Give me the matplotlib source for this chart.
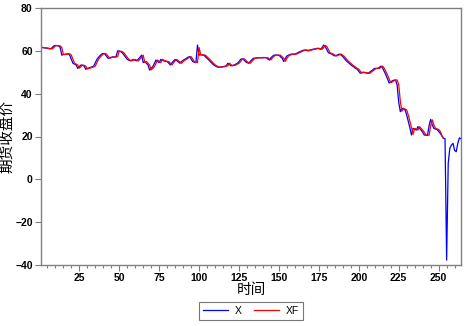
import matplotlib.pyplot as plt
from matplotlib.ticker import MultipleLocator

plt.rcParams['font.family'] = ['Liberation Sans', 'Noto Sans CJK SC', 'DejaVu Sans']
cjk = ['Noto Sans CJK SC', 'DejaVu Sans']

# futures close X (obs 1..264)
x_vals = [61.6, 61.5, 61.4, 61.3, 61.2, 61.0, 60.9, 61.5, 62.3, 62.5,
          62.4, 62.3, 61.6, 58.0, 58.3, 58.4, 58.5, 58.6, 58.0, 56.0,
          54.2, 53.8, 53.4, 51.8, 52.6, 53.4, 53.2, 52.9, 51.4, 51.8,
          52.0, 52.3, 52.5, 52.9, 54.5, 56.0, 57.0, 57.8, 58.5, 58.8,
          58.5, 57.5, 56.5, 56.8, 57.0, 57.2, 57.1, 57.3, 60.0, 59.8,
          59.6, 59.0, 58.0, 57.0, 56.0, 55.6, 55.3, 55.7, 56.0, 55.6,
          55.3, 56.2, 57.0, 58.0, 54.5, 55.0, 54.2, 53.4, 51.0, 51.8,
          52.6, 54.2, 55.7, 55.0, 54.5, 56.0, 55.6, 55.3, 55.1, 55.0,
          54.2, 53.4, 54.4, 55.3, 56.0, 55.4, 54.8, 54.2, 55.0, 55.6,
          56.0, 56.5, 57.0, 57.3, 56.2, 55.0, 54.7, 54.5, 62.7, 58.0,
          58.2, 58.0, 58.0, 57.2, 56.5, 55.8, 55.0, 54.2, 53.5, 53.0,
          52.6, 52.3, 52.4, 52.5, 52.6, 52.8, 53.0, 54.2, 53.6, 53.0,
          53.2, 53.4, 53.8, 54.2, 55.0, 56.0, 56.3, 55.8, 55.0, 54.5,
          54.2, 55.0, 55.8, 56.5, 56.6, 56.7, 56.8, 56.8, 56.7, 56.9,
          56.8, 56.8, 56.2, 55.7, 56.8, 57.5, 58.0, 58.0, 57.9, 58.0,
          57.2, 56.5, 55.0, 56.5, 57.6, 58.0, 58.3, 58.5, 58.4, 58.5,
          58.8, 59.2, 59.6, 59.9, 60.2, 60.4, 60.3, 60.0, 60.3, 60.5,
          60.7, 60.8, 61.0, 61.2, 61.0, 60.7, 61.5, 62.7, 62.0, 60.5,
          59.1, 58.8, 58.5, 58.0, 57.6, 57.9, 58.2, 58.5, 57.9, 57.3,
          56.4, 55.5, 54.8, 54.2, 53.5, 52.9, 52.4, 51.8, 51.4, 50.4,
          49.5, 50.0, 49.9, 49.8, 49.6, 49.5, 50.2, 50.7, 51.3, 51.8,
          51.8, 51.8, 52.4, 52.9, 51.8, 50.2, 48.7, 46.8, 45.0, 45.5,
          46.0, 46.3, 46.4, 44.0, 36.0, 31.6, 33.2, 32.8, 32.4, 30.0,
          27.0, 24.0, 20.7, 23.8, 23.4, 23.0, 24.6, 23.8, 23.0, 22.0,
          20.7, 20.6, 20.5, 25.0, 28.0, 25.4, 23.8, 23.5, 23.3, 22.4,
          21.5, 20.3, 19.1, 19.0, -37.7, 7.5, 14.5, 16.0, 16.8, 13.5,
          12.9, 16.8, 19.4, 18.9]

# fitted XF (obs 1..253)
xf_vals = [61.8, 61.6, 61.5, 61.4, 61.3, 61.2, 61.0, 60.9, 61.5, 62.3,
           62.5, 62.4, 62.3, 61.6, 58.2, 58.3, 58.4, 58.5, 58.6, 58.0,
           56.0, 54.2, 53.8, 53.4, 51.9, 52.6, 53.4, 53.2, 52.9, 51.5,
           51.8, 52.0, 52.3, 52.5, 52.9, 54.5, 56.0, 57.0, 57.8, 58.5,
           58.8, 58.5, 57.5, 56.5, 56.8, 57.0, 57.2, 57.1, 57.3, 60.0,
           59.8, 59.6, 59.0, 58.0, 57.0, 56.0, 55.6, 55.3, 55.7, 56.0,
           55.6, 55.3, 56.2, 57.0, 58.0, 54.6, 55.0, 54.2, 53.4, 51.1,
           51.8, 52.6, 54.2, 55.7, 55.0, 54.5, 56.0, 55.6, 55.3, 55.1,
           55.0, 54.2, 53.4, 54.4, 55.3, 56.0, 55.4, 54.8, 54.2, 55.0,
           55.6, 56.0, 56.5, 57.0, 57.3, 56.2, 55.0, 54.7, 54.5, 61.5,
           58.2, 58.2, 58.0, 58.0, 57.2, 56.5, 55.8, 55.0, 54.2, 53.5,
           53.0, 52.6, 52.3, 52.4, 52.5, 52.6, 52.8, 53.0, 54.2, 53.6,
           53.0, 53.2, 53.4, 53.8, 54.2, 55.0, 56.0, 56.3, 55.8, 55.0,
           54.5, 54.2, 55.0, 55.8, 56.5, 56.6, 56.7, 56.8, 56.8, 56.7,
           56.9, 56.8, 56.8, 56.2, 55.8, 56.8, 57.5, 58.0, 58.0, 57.9,
           58.0, 57.2, 56.5, 55.1, 56.5, 57.6, 58.0, 58.3, 58.5, 58.4,
           58.5, 58.8, 59.2, 59.6, 59.9, 60.2, 60.4, 60.3, 60.0, 60.3,
           60.5, 60.7, 60.8, 61.0, 61.2, 61.0, 60.7, 61.5, 62.5, 62.0,
           60.5, 59.1, 58.8, 58.5, 58.0, 57.6, 57.9, 58.2, 58.5, 57.9,
           57.3, 56.4, 55.5, 54.8, 54.2, 53.5, 52.9, 52.4, 51.8, 51.4,
           50.4, 49.6, 50.0, 49.9, 49.8, 49.6, 49.5, 50.2, 50.7, 51.3,
           51.8, 51.8, 51.8, 52.4, 52.8, 51.8, 50.2, 48.7, 46.8, 45.1,
           45.5, 46.0, 46.3, 46.4, 44.2, 36.5, 31.8, 33.2, 32.8, 32.4,
           30.0, 27.2, 24.2, 21.0, 23.8, 23.4, 23.0, 24.6, 23.8, 23.0,
           22.0, 20.8, 20.6, 20.6, 25.0, 27.8, 25.4, 23.8, 23.5, 23.3,
           22.4, 20.5, 19.3]

t_x = list(range(1, len(x_vals) + 1))
t_xf = list(range(1, len(xf_vals) + 1))

fig = plt.figure(figsize=(4.66, 3.26), dpi=100)
ax = fig.add_axes([41 / 466, 1 - 265 / 326, 420 / 466, 257 / 326])

ax.plot(t_x, x_vals, color='#0000ff', lw=0.9, label='X')
ax.plot(t_xf, xf_vals, color='#ff0000', lw=0.9, label='XF')

ax.set_xlim(1, 264)
ax.set_ylim(-40, 80)
ax.xaxis.set_minor_locator(MultipleLocator(5))
ax.yaxis.set_major_locator(MultipleLocator(20))
ax.set_xticks([25, 50, 75, 100, 125, 150, 175, 200, 225, 250])

for s in ax.spines.values():
    s.set_color('#808080')
    s.set_linewidth(1.0)
ax.tick_params(axis='both', direction='out', colors='#808080', labelcolor='black',
               labelsize=7.5, width=0.8)
ax.tick_params(axis='both', which='major', length=4)
ax.tick_params(axis='x', which='minor', length=2.5, width=0.8, colors='#808080')
ax.tick_params(axis='x', pad=2)
ax.tick_params(axis='y', pad=2)
for lab in ax.get_xticklabels() + ax.get_yticklabels():
    lab.set_fontweight('bold')

ax.set_xlabel('时间', fontsize=10.5, family=cjk, fontweight='light', labelpad=0)
ax.set_ylabel('期货收盘价', fontsize=10.5, family=cjk, fontweight='light', labelpad=1)

leg = ax.legend(loc='upper center', bbox_to_anchor=(0.5, -0.145), ncol=2,
                fontsize=7.5, frameon=True, fancybox=False, handlelength=2.4,
                columnspacing=1.1, borderpad=0.35, handletextpad=0.7,
                borderaxespad=0)
leg.get_frame().set_edgecolor('#555555')
leg.get_frame().set_linewidth(0.8)

fig.savefig('out.png', dpi=100)
